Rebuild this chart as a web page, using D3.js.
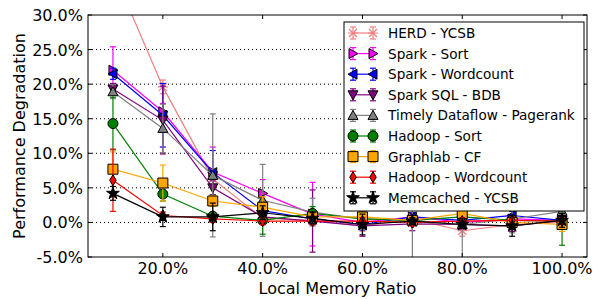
<!DOCTYPE html>
<html>
<head>
<meta charset="utf-8">
<script src="https://cdn.jsdelivr.net/npm/d3@7"></script>
<style>
body { margin: 0; background: #fff; }
text { font-family: "DejaVu Sans", sans-serif; }
</style>
</head>
<body>
<svg width="594" height="299"></svg>
<script>
let ratios = [10, 20, 30, 40, 50, 60, 70, 80, 90, 100]
let yTicks = [-5, 0, 5, 10, 15, 20, 25, 30]
let xTicks = [20, 40, 60, 80, 100]

let names = ['HERD - YCSB', 'Spark - Sort', 'Spark - Wordcount', 'Spark SQL - BDB',
    'Timely Dataflow - Pagerank', 'Hadoop - Sort', 'Graphlab - CF', 'Hadoop - Wordcount', 'Memcached - YCSB']
let colors = ['#f08080', '#ff00ff', '#0000ff', '#800080', '#808080', '#008000', '#ffa500', '#ff0000', '#000000']
let markers = ['x', 'right', 'left', 'down', 'up', 'circle', 'square', 'diamond', 'star']

let herd      = [36.4, 19.6, 6.3, 0.6, 0.3, -0.5, 0.5, -1.2, -0.3, 0.0]
let sparkSort = [22.0, 16.0, 7.3, 4.2, 1.2, 0.0, 0.8, 0.0, 0.5, 0.3]
let sparkWc   = [21.5, 15.5, 7.2, 1.7, 0.5, -0.3, 0.8, 0.3, 1.0, 0.3]
let sparkSql  = [19.3, 14.8, 5.0, 0.8, 0.2, -0.5, -0.2, -0.3, -0.5, 0.3]
let timely    = [18.9, 13.6, 6.8, 3.2, 1.5, 0.5, 0.3, -0.3, 0.5, 1.6]
let hadoopSort = [14.3, 4.1, 0.9, 0.3, 1.3, 0.5, 0.3, 0.8, 0.3, 0.2]
let graphlab  = [7.7, 5.7, 3.1, 2.2, 0.8, 0.8, 0.3, 1.3, 0.0, -0.3]
let hadoopWc  = [6.1, 1.0, 0.5, 0.2, 0.2, 0.2, 0.0, 0.2, 0.3, 0.2]
let memcached = [4.2, 0.8, 0.8, 1.4, 0.6, -0.3, 0.2, -0.3, -0.5, 0.3]

let herdErr      = [1.0, 1.0, 1.0, 0.8, 0.8, 0.8, 0.8, 0.8, 0.8, 0.8]
let sparkSortErr = [3.4, 1.2, 3.6, 2.0, 4.6, 1.0, 0.6, 1.0, 0.6, 0.6]
let sparkWcErr   = [0.8, 4.6, 3.2, 1.0, 0.8, 0.8, 0.6, 0.6, 0.6, 0.6]
let sparkSqlErr  = [0.8, 4.9, 1.0, 0.8, 4.5, 1.5, 1.0, 0.6, 0.8, 0.6]
let timelyErr    = [1.0, 3.5, 8.9, 5.2, 2.0, 1.5, 6.0, 6.0, 2.0, 1.5]
let hadoopSortErr = [3.8, 1.0, 0.5, 2.0, 1.0, 0.5, 0.5, 0.5, 0.5, 3.5]
let graphlabErr  = [2.5, 2.6, 0.8, 1.5, 0.5, 0.8, 0.5, 0.5, 0.5, 1.0]
let hadoopWcErr  = [4.5, 0.5, 0.5, 0.5, 0.5, 0.5, 0.5, 0.5, 0.5, 0.5]
let memcachedErr = [1.0, 1.4, 2.0, 1.0, 0.8, 1.5, 0.5, 0.5, 1.5, 1.0]

let values = [herd, sparkSort, sparkWc, sparkSql, timely, hadoopSort, graphlab, hadoopWc, memcached]
let errors = [herdErr, sparkSortErr, sparkWcErr, sparkSqlErr, timelyErr, hadoopSortErr, graphlabErr, hadoopWcErr, memcachedErr]

let mLeft = 88, mRight = 587, mTop = 15, mBottom = 257
let svg = d3.select('svg')
let x = d3.scaleLinear().domain([5, 105]).range([mLeft, mRight])
let y = d3.scaleLinear().domain([-5, 30]).range([mBottom, mTop])

let markerPath = (type, s) => {
    let h = s / 2
    if (type === 'circle') return d3.symbol(d3.symbolCircle, Math.PI * h * h)()
    if (type === 'square') return `M${-h},${-h}H${h}V${h}H${-h}Z`
    if (type === 'diamond') return `M0,${-h * 1.1}L${h * 0.65},0L0,${h * 1.1}L${-h * 0.65},0Z`
    if (type === 'star') return d3.symbol(d3.symbolStar, s * s * 0.5)()
    if (type === 'x') return `M${-h * 0.8},${-h * 0.8}L${h * 0.8},${h * 0.8}M${-h * 0.8},${h * 0.8}L${h * 0.8},${-h * 0.8}M${-h},0H${h}`
    let t = `M0,${-h}L${h},${h * 0.8}L${-h},${h * 0.8}Z`
    let rot = { up: 0, down: 180, left: -90, right: 90 }[type]
    return { d: t, rot: rot }
}

let drawMarker = (g, type, color, cx, cy, s) => {
    let p = markerPath(type, s)
    if (type === 'x') {
        g.append('path').attr('d', p).attr('transform', `translate(${cx},${cy})`)
            .attr('stroke', color).attr('stroke-width', 1.2).attr('fill', 'none')
    } else if (typeof p === 'object') {
        g.append('path').attr('d', p.d).attr('transform', `translate(${cx},${cy}) rotate(${p.rot})`)
            .attr('fill', color).attr('stroke', '#000').attr('stroke-width', 1)
    } else {
        g.append('path').attr('d', p).attr('transform', `translate(${cx},${cy})`)
            .attr('fill', color).attr('stroke', '#000').attr('stroke-width', 1)
    }
}

svg.append('defs').append('clipPath').attr('id', 'clip')
    .append('rect').attr('x', mLeft).attr('y', mTop).attr('width', mRight - mLeft).attr('height', mBottom - mTop)

// gridlines
svg.append('g').selectAll('line').data(yTicks.slice(1, -1)).enter().append('line')
    .attr('x1', mLeft).attr('x2', mRight)
    .attr('y1', d => y(d)).attr('y2', d => y(d))
    .attr('stroke', '#000').attr('stroke-width', 1).attr('stroke-dasharray', '1,3')

let plot = svg.append('g').attr('clip-path', 'url(#clip)')

values.forEach((vals, i) => {
    let g = plot.append('g')
    let col = colors[i]
    let errs = errors[i]
    // error bars
    ratios.forEach((r, j) => {
        let cx = x(r)
        let y1 = y(vals[j] + errs[j]), y2 = y(vals[j] - errs[j])
        g.append('line').attr('x1', cx).attr('x2', cx).attr('y1', y1).attr('y2', y2)
            .attr('stroke', col).attr('stroke-width', 1.2)
        ;[y1, y2].forEach(yy => {
            g.append('line').attr('x1', cx - 3).attr('x2', cx + 3).attr('y1', yy).attr('y2', yy)
                .attr('stroke', col).attr('stroke-width', 1.2)
        })
    })
    let line = d3.line().x((d, j) => x(ratios[j])).y(d => y(d))
    g.append('path').datum(vals).attr('d', line)
        .attr('fill', 'none').attr('stroke', col).attr('stroke-width', 1.2)
    ratios.forEach((r, j) => drawMarker(g, markers[i], col, x(r), y(vals[j]), 10))
})

// frame
svg.append('rect').attr('x', mLeft).attr('y', mTop).attr('width', mRight - mLeft).attr('height', mBottom - mTop)
    .attr('fill', 'none').attr('stroke', '#000').attr('stroke-width', 1)

// ticks inward on all sides
let axG = svg.append('g')
xTicks.forEach(t => {
    axG.append('line').attr('x1', x(t)).attr('x2', x(t)).attr('y1', mBottom).attr('y2', mBottom - 4).attr('stroke', '#000')
    axG.append('line').attr('x1', x(t)).attr('x2', x(t)).attr('y1', mTop).attr('y2', mTop + 4).attr('stroke', '#000')
    axG.append('text').attr('x', x(t)).attr('y', mBottom + 17).attr('text-anchor', 'middle')
        .attr('font-size', 16).text(t.toFixed(1) + '%')
})
yTicks.forEach(t => {
    axG.append('line').attr('x1', mLeft).attr('x2', mLeft + 4).attr('y1', y(t)).attr('y2', y(t)).attr('stroke', '#000')
    axG.append('line').attr('x1', mRight).attr('x2', mRight - 4).attr('y1', y(t)).attr('y2', y(t)).attr('stroke', '#000')
    axG.append('text').attr('x', mLeft - 5).attr('y', y(t) + 6).attr('text-anchor', 'end')
        .attr('font-size', 16).text(t.toFixed(1) + '%')
})

svg.append('text').attr('x', (mLeft + mRight) / 2).attr('y', 294).attr('text-anchor', 'middle')
    .attr('font-size', 16).text('Local Memory Ratio')
svg.append('text').attr('transform', `translate(25,${(mTop + mBottom) / 2}) rotate(-90)`)
    .attr('text-anchor', 'middle').attr('font-size', 16).text('Performance Degradation')

// legend
let lg = svg.append('g')
lg.append('rect').attr('x', 344).attr('y', 22).attr('width', 240).attr('height', 189)
    .attr('fill', '#fff').attr('stroke', '#000').attr('stroke-width', 1)
names.forEach((n, i) => {
    let ly = 33 + i * 20.6
    let col = colors[i]
    lg.append('line').attr('x1', 353).attr('x2', 373).attr('y1', ly).attr('y2', ly)
        .attr('stroke', col).attr('stroke-width', 1.2)
    ;[353, 373].forEach(cx => {
        lg.append('line').attr('x1', cx).attr('x2', cx).attr('y1', ly - 6).attr('y2', ly + 6)
            .attr('stroke', col).attr('stroke-width', 1.2)
        ;[ly - 6, ly + 6].forEach(yy => lg.append('line').attr('x1', cx - 3).attr('x2', cx + 3)
            .attr('y1', yy).attr('y2', yy).attr('stroke', col).attr('stroke-width', 1.2))
        drawMarker(lg, markers[i], col, cx, ly, 10)
    })
    lg.append('text').attr('x', 388).attr('y', ly + 5).attr('font-size', 13.6).text(n)
})
</script>
</body>
</html>
